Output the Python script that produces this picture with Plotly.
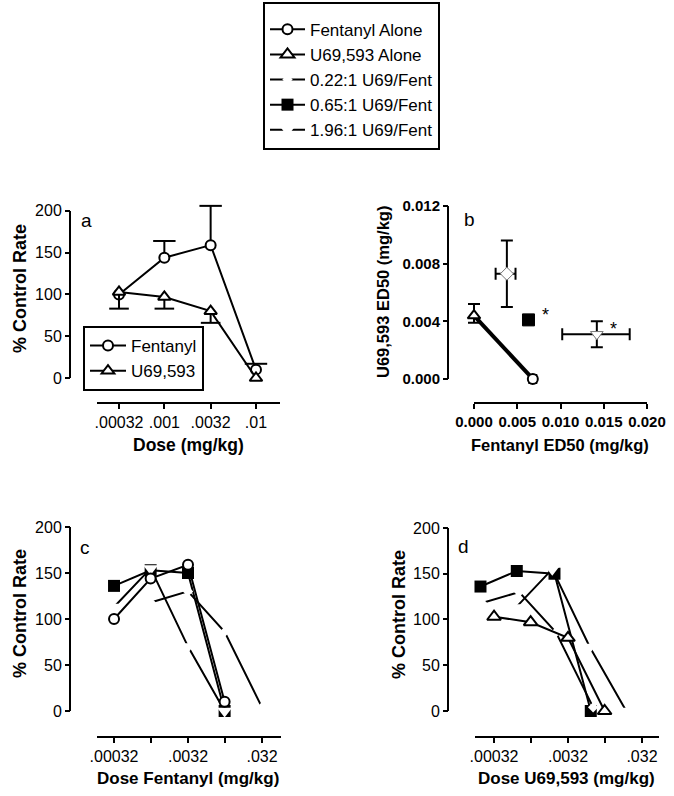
import plotly.graph_objects as go

W, H = 674, 796
def fx(px): return px / W
def fy(py): return 1 - py / H

FONT = "Liberation Sans, Arial, sans-serif"

# ---------------- data ----------------
fent_doses = [0.00032, 0.001, 0.0032, 0.01]
fent_alone = [100, 144, 159, 10]
fent_alone_sem = [0, 20, 47, 7]
u69_doses = [0.00032, 0.001, 0.0032, 0.01]
u69_alone = [103, 97, 80, 0]
u69_alone_sem = [20, 14, 14, 0]

mix022_fent = [0.001, 0.0032, 0.01, 0.032]
mix022_u69 = [0.00022, 0.0007, 0.0022, 0.007]
mix022_rate = [118, 130, 86, 4]
mix065_fent = [0.00032, 0.001, 0.0032, 0.01]
mix065_u69 = [0.00021, 0.00065, 0.0021, 0.0065]
mix065_rate = [136, 153, 150, 0]
mix196_fent = [0.00032, 0.001, 0.0032, 0.01]
mix196_u69 = [0.00063, 0.00196, 0.0063, 0.0196]
mix196_rate = [113, 155, 70, 0]

# panel b: ED50 isobologram
alone_fent_ed50 = [0.0, 0.0068]
alone_u69_ed50 = [0.0044, 0.0]
fent_ed50_err = 0.0004
u69_ed50_err_up = 0.0008
u69_ed50_err_dn = 0.0005
mix_fent_ed50 = [0.0038, 0.0063, 0.0142]
mix_u69_ed50 = [0.0073, 0.0041, 0.0031]
mix_fent_err_minus = [0.0013, 0.0, 0.0040]
mix_fent_err_plus = [0.0010, 0.0, 0.0038]
mix_u69_err = [0.0023, 0.0, 0.0009]
mix_signif = [False, True, True]

# ticks
dose_ticks_a = [0.00032, 0.001, 0.0032, 0.01]
dose_labels_a = [".00032", ".001", ".0032", ".01"]
dose_ticks_cd = [0.00032, 0.001, 0.0032, 0.01, 0.032]
dose_labels_cd = [".00032", "", ".0032", "", ".032"]
pct_ticks = [0, 50, 100, 150, 200]
ed50_x_ticks = [0, 0.005, 0.010, 0.015, 0.020]
ed50_x_labels = ["0.000", "0.005", "0.010", "0.015", "0.020"]
ed50_y_ticks = [0, 0.004, 0.008, 0.012]
ed50_y_labels = ["0.000", "0.004", "0.008", "0.012"]

fig = go.Figure()
BLK = "black"

def caps(y, e, sign):
    return [v + sign * d if d else None for v, d in zip(y, e)]

# ---------------- panel a ----------------
fig.add_trace(go.Scatter(
    x=fent_doses, y=fent_alone, mode="lines+markers", name="Fentanyl",
    legend="legend2", cliponaxis=False,
    line=dict(color=BLK, width=2),
    marker=dict(symbol="circle", size=10, color="white", line=dict(color=BLK, width=2)),
    error_y=dict(type="data", symmetric=False, array=fent_alone_sem,
                 arrayminus=[0] * len(fent_alone), width=0, thickness=2, color=BLK),
    xaxis="x", yaxis="y"))
fig.add_trace(go.Scatter(
    x=fent_doses, y=caps(fent_alone, fent_alone_sem, 1), mode="markers",
    showlegend=False, cliponaxis=False,
    marker=dict(symbol="line-ew-open", size=16, color=BLK, line=dict(color=BLK, width=2)),
    xaxis="x", yaxis="y"))
fig.add_trace(go.Scatter(
    x=u69_doses, y=caps(u69_alone, u69_alone_sem, -1), mode="markers",
    showlegend=False, cliponaxis=False,
    marker=dict(symbol="line-ew-open", size=14, color=BLK, line=dict(color=BLK, width=2)),
    xaxis="x", yaxis="y"))
fig.add_trace(go.Scatter(
    x=u69_doses, y=u69_alone, mode="lines+markers", name="U69,593",
    legend="legend2", cliponaxis=False,
    line=dict(color=BLK, width=2),
    marker=dict(symbol="triangle-up", size=11, color="white", line=dict(color=BLK, width=2)),
    error_y=dict(type="data", symmetric=False, array=[0] * len(u69_alone),
                 arrayminus=u69_alone_sem, width=0, thickness=2, color=BLK),
    xaxis="x", yaxis="y"))

# ---------------- panel b ----------------
fig.add_trace(go.Scatter(
    x=alone_fent_ed50, y=alone_u69_ed50, mode="lines", showlegend=False,
    line=dict(color=BLK, width=4), xaxis="x2", yaxis="y2"))
fig.add_trace(go.Scatter(
    x=alone_fent_ed50[:1], y=alone_u69_ed50[:1], mode="markers", showlegend=False,
    cliponaxis=False,
    marker=dict(symbol="triangle-up", size=11, color="white", line=dict(color=BLK, width=2)),
    error_y=dict(type="data", symmetric=False, array=[u69_ed50_err_up],
                 arrayminus=[u69_ed50_err_dn], width=6, thickness=2, color=BLK),
    xaxis="x2", yaxis="y2"))
fig.add_trace(go.Scatter(
    x=alone_fent_ed50[1:], y=alone_u69_ed50[1:], mode="markers", showlegend=False,
    cliponaxis=False,
    marker=dict(symbol="circle", size=10, color="white", line=dict(color=BLK, width=2)),
    error_x=dict(type="data", array=[fent_ed50_err], width=5, thickness=2, color=BLK),
    xaxis="x2", yaxis="y2"))
mix_syms = ["diamond", "square", "triangle-down"]
mix_fill = ["white", BLK, "white"]
mix_edge = ["#777777", BLK, "#777777"]
mix_size = [10, 12, 11]
for i in range(3):
    kw = {}
    if mix_u69_err[i]:
        kw["error_y"] = dict(type="data", array=[mix_u69_err[i]], width=6, thickness=2, color=BLK)
    if mix_fent_err_plus[i]:
        kw["error_x"] = dict(type="data", symmetric=False, array=[mix_fent_err_plus[i]],
                             arrayminus=[mix_fent_err_minus[i]], width=6, thickness=2, color=BLK)
    fig.add_trace(go.Scatter(
        x=[mix_fent_ed50[i]], y=[mix_u69_ed50[i]], mode="markers", showlegend=False,
        cliponaxis=False,
        marker=dict(symbol=mix_syms[i], size=mix_size[i], color=mix_fill[i],
                    line=dict(color=mix_edge[i], width=1)),
        xaxis="x2", yaxis="y2", **kw))

# ---------------- panels c & d ----------------
def mixture_traces(ax, ay, xs065, xs022, xs196, legend_on):
    fig.add_trace(go.Scatter(
        x=xs065, y=mix065_rate, mode="lines+markers", name="0.65:1 U69/Fent",
        showlegend=legend_on, legendrank=4, cliponaxis=False,
        line=dict(color=BLK, width=2),
        marker=dict(symbol="square", size=12, color=BLK),
        xaxis=ax, yaxis=ay))
    fig.add_trace(go.Scatter(
        x=xs022, y=mix022_rate, mode="lines+markers", name="0.22:1 U69/Fent",
        showlegend=legend_on, legendrank=3, cliponaxis=False,
        line=dict(color=BLK, width=2),
        marker=dict(symbol="diamond", size=8, color="white", line=dict(width=0)),
        xaxis=ax, yaxis=ay))
    fig.add_trace(go.Scatter(
        x=xs196, y=mix196_rate, mode="lines+markers", name="1.96:1 U69/Fent",
        showlegend=legend_on, legendrank=5, cliponaxis=False,
        line=dict(color=BLK, width=2),
        marker=dict(symbol="triangle-down", size=13, color="white", line=dict(width=0)),
        xaxis=ax, yaxis=ay))

mixture_traces("x3", "y3", mix065_fent, mix022_fent, mix196_fent, True)
fig.add_trace(go.Scatter(
    x=fent_doses, y=fent_alone, mode="lines+markers", name="Fentanyl Alone",
    legendrank=1, cliponaxis=False,
    line=dict(color=BLK, width=2),
    marker=dict(symbol="circle", size=10, color="white", line=dict(color=BLK, width=2)),
    xaxis="x3", yaxis="y3"))

mixture_traces("x4", "y4", mix065_u69, mix022_u69, mix196_u69, False)
fig.add_trace(go.Scatter(
    x=u69_doses, y=u69_alone, mode="lines+markers", name="U69,593 Alone",
    legendrank=2, cliponaxis=False,
    line=dict(color=BLK, width=2),
    marker=dict(symbol="triangle-up", size=12, color="white", line=dict(color=BLK, width=2)),
    xaxis="x4", yaxis="y4"))

# ---------------- axes ----------------
tickfont = dict(family=FONT, size=16, color=BLK)
tickfont_b = dict(family=FONT, size=15, color=BLK, weight="bold")
common = dict(showgrid=False, zeroline=False, ticks="outside", ticklen=5, tickwidth=2,
              tickcolor=BLK, anchor="free", automargin=False)

def xaxis_log(px0, px1, lo, hi, ypos, tv, tt):
    return dict(common, type="log", domain=[fx(px0), fx(px1)], range=[lo, hi],
                position=fy(ypos), tickvals=tv, ticktext=tt, tickfont=tickfont,
                showline=True, linewidth=2, linecolor=BLK)

def yaxis_pct(py_lo, py_hi, xpos):
    return dict(common, domain=[fy(py_lo), fy(py_hi)], range=[-20, 225], position=fx(xpos),
                tickvals=pct_ticks, tickfont=tickfont, showline=False)

fig.update_layout(
    xaxis=xaxis_log(97, 280, -3.735, -1.738, 403, dose_ticks_a, dose_labels_a),
    yaxis=yaxis_pct(394.7, 190.0, 70),
    xaxis2=dict(common, domain=[fx(456.7), fx(664.3)], range=[-0.002, 0.022],
                position=fy(403), tickvals=ed50_x_ticks, ticktext=ed50_x_labels,
                tickfont=tickfont_b, showline=False),
    yaxis2=dict(common, domain=[fy(400.6), fy(184.4)], range=[-0.0015, 0.0135],
                position=fx(448), tickvals=ed50_y_ticks, ticktext=ed50_y_labels,
                tickfont=tickfont_b, showline=False),
    xaxis3=xaxis_log(97, 281, -3.725, -1.238, 737, dose_ticks_cd, dose_labels_cd),
    yaxis3=yaxis_pct(729.4, 504.0, 70),
    xaxis4=xaxis_log(475, 659, -3.752, -1.265, 737, dose_ticks_cd, dose_labels_cd),
    yaxis4=yaxis_pct(729.3, 505.1, 448),
)

# axis lines drawn only over the labelled span (Prism style)
shapes = []
for yref, xp in (("y", 70), ("y3", 70), ("y4", 448)):
    shapes.append(dict(type="line", xref="paper", yref=yref, x0=fx(xp), x1=fx(xp),
                       y0=min(pct_ticks), y1=max(pct_ticks), line=dict(color=BLK, width=2)))
shapes.append(dict(type="line", xref="paper", yref="y2", x0=fx(448), x1=fx(448),
                   y0=min(ed50_y_ticks), y1=max(ed50_y_ticks), line=dict(color=BLK, width=2)))
shapes.append(dict(type="line", xref="x2", yref="paper", x0=min(ed50_x_ticks),
                   x1=max(ed50_x_ticks), y0=fy(403), y1=fy(403), line=dict(color=BLK, width=2)))

# ---------------- annotations ----------------
ann = []
def txt(x, y, s, size=17, angle=0, bold=True):
    ann.append(dict(x=fx(x), y=fy(y), xref="paper", yref="paper", showarrow=False,
                    text=(f"<b>{s}</b>" if bold else s), textangle=angle,
                    xanchor="center", yanchor="middle",
                    font=dict(family=FONT, size=size, color=BLK)))

txt(188, 445, "Dose (mg/kg)", size=17.5)
txt(560, 445, "Fentanyl ED50 (mg/kg)", size=16.5)
txt(188, 778, "Dose Fentanyl (mg/kg)", size=17)
txt(566, 778, "Dose U69,593 (mg/kg)", size=17)
txt(20, 289, "% Control Rate", size=18, angle=-90)
txt(383, 292, "U69,593 ED50 (mg/kg)", size=16.5, angle=-90)
txt(20, 614, "% Control Rate", size=18, angle=-90)
txt(399, 614, "% Control Rate", size=18, angle=-90)
for (px, py, s) in ((86, 221, "a"), (469, 220, "b"), (85, 547, "c"), (463, 546, "d")):
    txt(px, py, s, size=19, bold=False)

for i in range(3):
    if mix_signif[i]:
        ann.append(dict(x=mix_fent_ed50[i], y=mix_u69_ed50[i], xref="x2", yref="y2",
                        showarrow=False, text="*", xshift=17, yshift=5,
                        font=dict(family=FONT, size=18, color=BLK)))

fig.update_layout(
    width=W, height=H, margin=dict(l=0, r=0, t=0, b=0),
    paper_bgcolor="white", plot_bgcolor="white",
    font=dict(family=FONT, color=BLK),
    shapes=shapes, annotations=ann,
    legend=dict(x=fx(263), y=fy(2), xanchor="left", yanchor="top",
                bordercolor=BLK, borderwidth=2, bgcolor="white", itemwidth=35,
                title=dict(text=" ", font=dict(family=FONT, size=6)),
                font=dict(family=FONT, size=17, color=BLK), traceorder="normal"),
    legend2=dict(x=fx(83), y=fy(326), xanchor="left", yanchor="top",
                 bordercolor=BLK, borderwidth=2, bgcolor="white", itemwidth=36,
                 font=dict(family=FONT, size=17, color=BLK), traceorder="normal"),
)

fig.write_html("out.html", config={"displayModeBar": False},
               post_script="document.body.style.margin='0';")
